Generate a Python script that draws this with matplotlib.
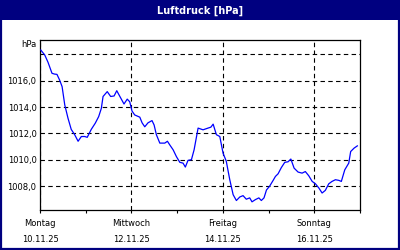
import matplotlib
matplotlib.use("Agg")
import matplotlib.pyplot as plt
from matplotlib.patches import Rectangle
from matplotlib.ticker import FixedLocator
import matplotlib.transforms as mtransforms

# hours since Monday 10.11.25 00:00
hours = [0.4, 2.5, 4.2, 6.3, 7.7, 8.9, 10.3, 11.6, 13.0, 14.7, 16.4, 18.2, 20.0,
         21.7, 23.5, 24.8, 26.9, 29.0, 30.8, 32.2, 33.1, 35.3, 37.1, 38.9, 40.3,
         41.0, 42.7, 44.1, 45.8, 47.1, 48.3, 49.7, 52.4, 53.6, 55.0, 56.7, 58.8,
         59.9, 61.1, 62.9, 65.5, 66.9, 68.1, 69.9, 71.6, 73.4, 75.1, 76.3, 77.7,
         79.5, 80.9, 83.0, 85.6, 88.2, 89.7, 90.9, 92.6, 94.4, 96.1, 97.8, 99.6,
         101.4, 103.1, 104.9, 106.6, 108.3, 110.1, 111.3, 113.1, 114.9, 116.2,
         117.6, 118.9, 120.6, 122.4, 123.6, 125.0, 126.7, 128.5, 130.2, 131.7,
         133.4, 135.5, 137.6, 139.3, 141.1, 142.9, 144.6, 146.4, 148.1, 149.8,
         151.6, 153.3, 155.1, 156.9, 158.2, 160.0, 162.1, 163.1, 164.9, 166.6]
pressure = [1018.33, 1017.95, 1017.4, 1016.56, 1016.5, 1016.48, 1016.05, 1015.55,
            1014.16, 1013.15, 1012.3, 1011.9, 1011.4, 1011.76, 1011.76, 1011.7,
            1012.3, 1012.77, 1013.27, 1013.9, 1014.8, 1015.17, 1014.8, 1014.84,
            1015.24, 1015.05, 1014.6, 1014.23, 1014.6, 1014.4, 1013.7, 1013.4,
            1013.23, 1012.8, 1012.5, 1012.8, 1012.97, 1012.64, 1011.9, 1011.26,
            1011.26, 1011.4, 1011.13, 1010.75, 1010.24, 1009.8, 1009.74, 1009.44,
            1009.95, 1010.0, 1010.75, 1012.4, 1012.27, 1012.4, 1012.47, 1012.7,
            1011.9, 1011.76, 1010.5, 1009.88, 1008.5, 1007.34, 1006.9, 1007.17,
            1007.27, 1007.0, 1007.1, 1006.8, 1006.97, 1007.1, 1006.9, 1007.1,
            1007.7, 1008.0, 1008.43, 1008.73, 1008.93, 1009.4, 1009.8, 1009.84,
            1010.05, 1009.36, 1009.06, 1008.98, 1009.1, 1008.78, 1008.35, 1008.17,
            1007.85, 1007.47, 1007.67, 1008.17, 1008.35, 1008.48, 1008.43, 1008.35,
            1009.23, 1009.74, 1010.62, 1010.88, 1011.05]

day_names = ["Montag", "Mittwoch", "Freitag", "Sonntag"]
day_dates = ["10.11.25", "12.11.25", "14.11.25", "16.11.25"]
major_hours = [0, 48, 96, 144]
minor_hours = [24, 72, 120, 168]
y_ticks = [1008, 1010, 1012, 1014, 1016, 1018]
y_labels = ["1008,0", "1010,0", "1012,0", "1014,0", "1016,0", ""]
title = "Luftdruck [hPa]"
unit = "hPa"

navy = "#000080"
plt.rcParams['font.family'] = ['DejaVu Sans']

fig = plt.figure(figsize=(4, 2.5), dpi=100)
fig.patch.set_facecolor("white")

# title bar
fig.patches.append(Rectangle((0, 1 - 20 / 250), 1, 20 / 250, transform=fig.transFigure,
                             facecolor=navy, edgecolor="none", zorder=0))
fig.patches.append(Rectangle((0.5 / 400, 1 / 250), 1 - 1.5 / 400, 1 - 1.5 / 250,
                             transform=fig.transFigure, facecolor="none",
                             edgecolor=navy, linewidth=1.6, zorder=5))
fig.text(0.5, 1 - 10.5 / 250, title, color="white", fontsize=7, fontweight="bold",
         ha="center", va="center")

ax = fig.add_axes([40 / 400, 40 / 250, 320 / 400, 170 / 250])
ax.plot(hours, pressure, color="#0000ff", linewidth=0.9, zorder=3)

ax.set_xlim(0, 168)
ax.set_ylim(1006.18, 1019.09)

ax.xaxis.set_major_locator(FixedLocator(major_hours))
ax.xaxis.set_minor_locator(FixedLocator(minor_hours))
ax.set_xticklabels([])
ax.tick_params(axis="x", which="both", direction="out", length=2.5, width=0.8,
               color="black")
ax.set_yticks(y_ticks)
ax.set_yticklabels(y_labels)
ax.tick_params(axis="y", length=0, pad=2.5, labelsize=6)

ax.grid(True, which="major", color="black", linestyle=(0, (4, 3)), linewidth=0.8)
for s in ax.spines.values():
    s.set_color("black")
    s.set_linewidth(0.9)

trans = mtransforms.blended_transform_factory(ax.transData, ax.transAxes)
for h, n, d in zip(major_hours, day_names, day_dates):
    ax.text(h, -13.5 / 170, n, transform=trans, ha="center", va="center", fontsize=6)
    ax.text(h, -29.5 / 170, d, transform=trans, ha="center", va="center", fontsize=6)

ax.text(-3.5 / 320, 1 - 4.5 / 170, unit, transform=ax.transAxes, ha="right",
        va="center", fontsize=6)

fig.savefig("out.png", dpi=100, facecolor="white")
